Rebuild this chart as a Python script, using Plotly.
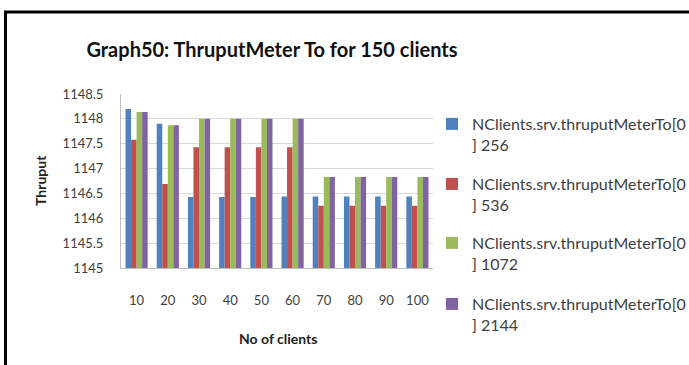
import plotly.graph_objects as go

# Number of clients on the x axis
clients = ["10", "20", "30", "40", "50", "60", "70", "80", "90", "100"]

# Throughput per meter index
thru_256 = [1148.2, 1147.9, 1146.43, 1146.43, 1146.43, 1146.44, 1146.44, 1146.44, 1146.44, 1146.44]
thru_536 = [1147.58, 1146.69, 1147.43, 1147.43, 1147.43, 1147.43, 1146.25, 1146.25, 1146.25, 1146.25]
thru_1072 = [1148.14, 1147.87, 1148.0, 1148.0, 1148.0, 1148.0, 1146.83, 1146.83, 1146.83, 1146.83]
thru_2144 = [1148.14, 1147.87, 1148.0, 1148.0, 1148.0, 1148.0, 1146.83, 1146.83, 1146.83, 1146.83]

series_names = [
    "NClients.srv.thruputMeterTo[0<br>] 256",
    "NClients.srv.thruputMeterTo[0<br>] 536",
    "NClients.srv.thruputMeterTo[0<br>] 1072",
    "NClients.srv.thruputMeterTo[0<br>] 2144",
]
series_values = [thru_256, thru_536, thru_1072, thru_2144]
series_colors = ["#4F81BD", "#C0504D", "#9BBB59", "#8064A2"]

y_ticks = [1145, 1145.5, 1146, 1146.5, 1147, 1147.5, 1148, 1148.5]
y_tick_text = ["1145", "1145.5", "1146", "1146.5", "1147", "1147.5", "1148", "1148.5"]

W, H = 689, 365
L, R, T, B = 121, 256, 94, 97
PW, PH = W - L - R, H - T - B


def px_x(px):
    return (px - L) / PW


def px_y(py):
    return (H - B - py) / PH


FONT = "Lato"
LEGEND_KEYS = ["legend", "legend2", "legend3", "legend4"]
LEGEND_TOPS = [107, 167, 226, 287]

fig = go.Figure()
for name, vals, col, key in zip(series_names, series_values, series_colors, LEGEND_KEYS):
    fig.add_trace(go.Bar(x=clients, y=vals, name=name, marker_color=col,
                         marker_line_width=0, legend=key))

legend_layouts = {
    key: dict(x=px_x(432), xanchor="left", y=px_y(top), yanchor="top",
              font=dict(family=FONT, size=16, color="#404040"),
              itemwidth=30, valign="top", bgcolor="rgba(0,0,0,0)")
    for key, top in zip(LEGEND_KEYS, LEGEND_TOPS)
}

fig.update_layout(
    width=W, height=H,
    margin=dict(l=L, r=R, t=T, b=B, autoexpand=False),
    paper_bgcolor="white", plot_bgcolor="white",
    barmode="group", bargap=0.29, bargroupgap=0,
    font=dict(family=FONT, color="#404040"),
    title=dict(text="<b>Graph50: ThruputMeter To for 150 clients</b>",
               x=272 / W, xref="container", xanchor="center",
               y=1 - 50 / H, yref="container", yanchor="middle",
               font=dict(family=FONT, size=20, color="#111111")),
    xaxis=dict(showgrid=False, showline=True, linecolor="#BFBFBF", linewidth=1,
               ticks="", ticklabelstandoff=20,
               tickfont=dict(size=13, color="#404040")),
    yaxis=dict(range=[1145, 1148.5], tickvals=y_ticks, ticktext=y_tick_text,
               showgrid=True, gridcolor="#D9D9D9", gridwidth=1,
               showline=True, linecolor="#BFBFBF", linewidth=1,
               ticks="", ticklabelstandoff=14, zeroline=False,
               tickfont=dict(size=13, color="#404040")),
    showlegend=True,
    shapes=[
        dict(type="line", xref="paper", yref="paper",
             x0=px_x(4), x1=px_x(W), y0=px_y(12), y1=px_y(12),
             line=dict(color="black", width=3)),
        dict(type="line", xref="paper", yref="paper",
             x0=px_x(5.5), x1=px_x(5.5), y0=px_y(12), y1=px_y(H),
             line=dict(color="black", width=3)),
    ],
    annotations=[
        dict(text="<b>Thruput</b>", xref="paper", yref="paper",
             x=px_x(40), y=px_y(181), textangle=-90, showarrow=False,
             xanchor="center", yanchor="middle",
             font=dict(family=FONT, size=14, color="#222222")),
        dict(text="<b>No of clients</b>", xref="paper", yref="paper",
             x=px_x(278), y=px_y(338), showarrow=False,
             xanchor="center", yanchor="middle",
             font=dict(family=FONT, size=14, color="#222222")),
    ],
    **legend_layouts,
)

fig.write_html("out.html")
